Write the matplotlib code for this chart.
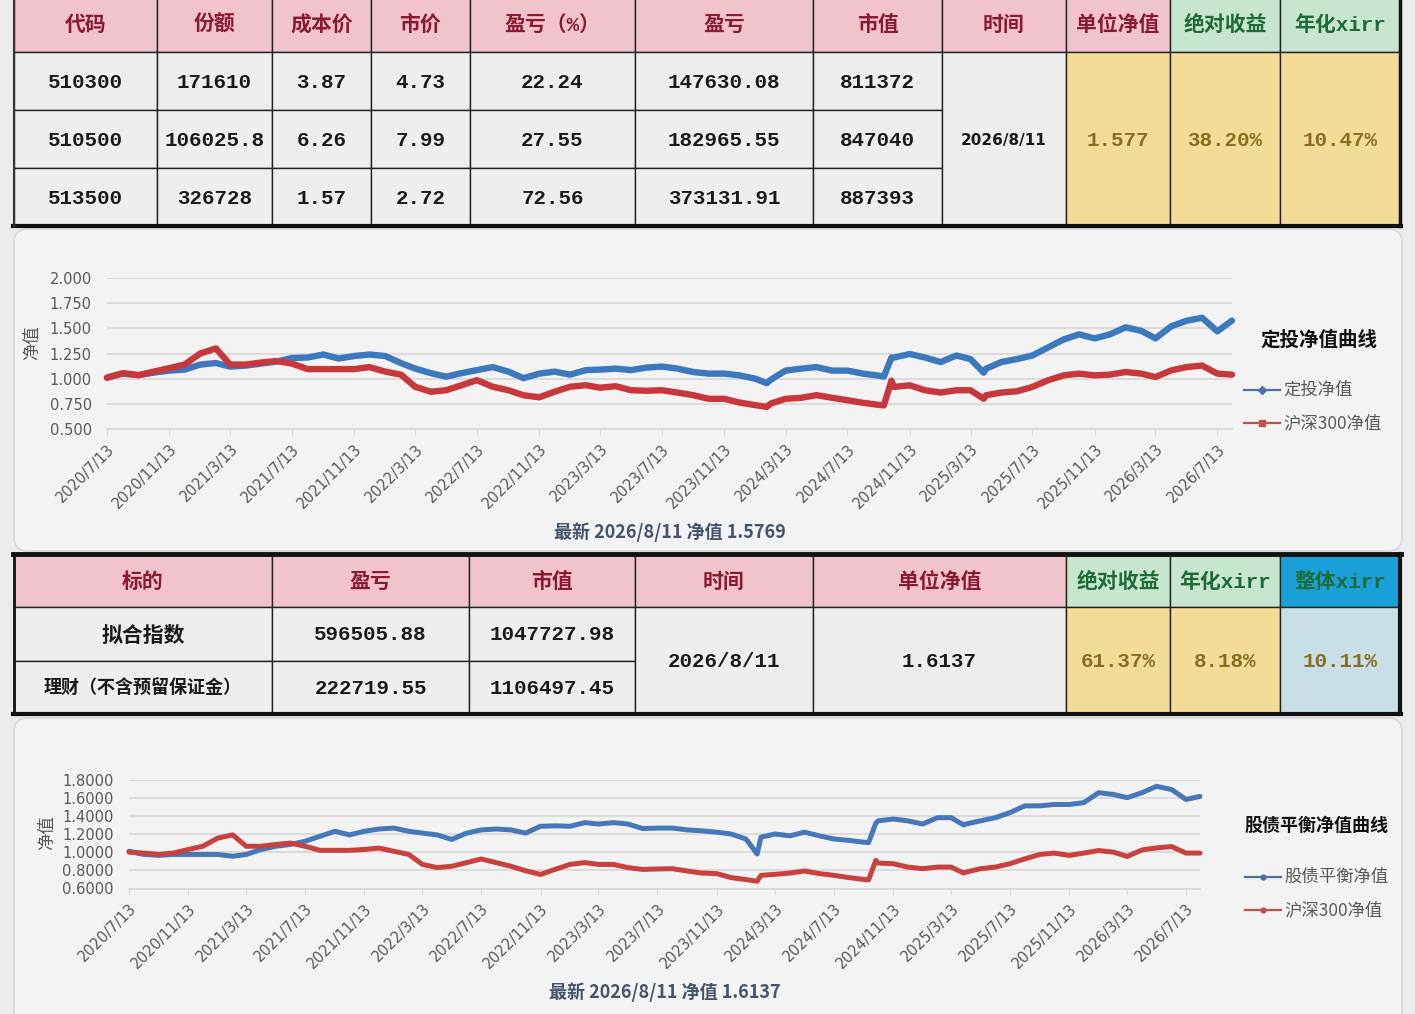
import numpy as np
import pandas as pd
import matplotlib
matplotlib.use("Agg")
import matplotlib.pyplot as plt
from matplotlib.patches import Rectangle, FancyBboxPatch
from matplotlib.ticker import FormatStrFormatter

plt.rcParams['font.family'] = ['Noto Sans CJK SC', 'DejaVu Sans']

# ---------------- 表格数据 ----------------
hdr1 = ['代码', '份额', '成本价', '市价', '盈亏（%）', '盈亏', '市值', '时间', '单位净值', '绝对收益', '年化xirr']
codes = ['510300', '510500', '513500']
shares = ['171610', '106025.8', '326728']
cost = ['3.87', '6.26', '1.57']
price = ['4.73', '7.99', '2.72']
pnl_pct = ['22.24', '27.55', '72.56']
pnl = ['147630.08', '182965.55', '373131.91']
mkt = ['811372', '847040', '887393']
date1 = '2026/8/11'
nav1 = '1.577'
abs_ret1 = '38.20%'
xirr1 = '10.47%'

hdr2 = ['标的', '盈亏', '市值', '时间', '单位净值', '绝对收益', '年化xirr', '整体xirr']
names2 = ['拟合指数', '理财（不含预留保证金）']
pnl2 = ['596505.88', '222719.55']
mkt2 = ['1047727.98', '1106497.45']
date2 = '2026/8/11'
nav2 = '1.6137'
abs_ret2 = '61.37%'
xirr2 = '8.18%'
xirr2_all = '10.11%'

# ---------------- 曲线数据 (从图上读的, 月度采样) ----------------
dates = [
    '2020/7/13', '2020/8/13', '2020/9/13', '2020/10/13', '2020/11/13', '2020/12/13',
    '2021/1/13', '2021/2/13', '2021/3/13', '2021/4/13', '2021/5/13', '2021/6/13',
    '2021/7/13', '2021/8/13', '2021/9/13', '2021/10/13', '2021/11/13', '2021/12/13',
    '2022/1/13', '2022/2/13', '2022/3/13', '2022/4/13', '2022/5/13', '2022/6/13',
    '2022/7/13', '2022/8/13', '2022/9/13', '2022/10/13', '2022/11/13', '2022/12/13',
    '2023/1/13', '2023/2/13', '2023/3/13', '2023/4/13', '2023/5/13', '2023/6/13',
    '2023/7/13', '2023/8/13', '2023/9/13', '2023/10/13', '2023/11/13', '2023/12/13',
    '2024/1/13', '2024/2/5', '2024/2/13', '2024/3/13', '2024/4/13', '2024/5/13', '2024/6/13',
    '2024/7/13', '2024/8/13', '2024/9/13', '2024/9/23', '2024/10/8', '2024/10/13',
    '2024/11/13', '2024/12/13',
    '2025/1/13', '2025/2/13', '2025/3/13', '2025/4/8', '2025/4/13', '2025/5/13',
    '2025/6/13', '2025/7/13', '2025/8/13', '2025/9/13', '2025/10/13', '2025/11/13', '2025/12/13',
    '2026/1/13', '2026/2/13', '2026/3/13', '2026/4/13', '2026/5/13', '2026/6/13',
    '2026/7/13', '2026/8/11',
]

dingtou = [
    1.01, 1.05, 1.035, 1.06, 1.08, 1.09,
    1.14, 1.155, 1.12, 1.13, 1.15, 1.17, 1.205, 1.21, 1.24, 1.20, 1.225, 1.24,
    1.225, 1.155, 1.10, 1.055, 1.02, 1.055, 1.085, 1.115, 1.07, 1.005, 1.05, 1.07,
    1.04, 1.085, 1.09, 1.10, 1.085, 1.11, 1.12, 1.10, 1.066, 1.05, 1.05, 1.033,
    1.00, 0.955, 0.99, 1.08, 1.10, 1.115, 1.08, 1.08, 1.05, 1.03, 1.02, 1.21, 1.21, 1.245, 1.21,
    1.165, 1.23, 1.195, 1.06, 1.10, 1.165, 1.195, 1.23, 1.31, 1.39, 1.44, 1.40, 1.44,
    1.51, 1.475, 1.40, 1.52, 1.575, 1.605, 1.47, 1.577,
]
hs300_a = [
    1.01, 1.055, 1.035, 1.07, 1.105, 1.14,
    1.25, 1.30, 1.14, 1.14, 1.16, 1.175, 1.15, 1.095, 1.095, 1.095, 1.095, 1.115,
    1.07, 1.04, 0.92, 0.87, 0.885, 0.935, 0.985, 0.92, 0.885, 0.835, 0.815, 0.87,
    0.92, 0.935, 0.91, 0.925, 0.885, 0.88, 0.885, 0.862, 0.836, 0.80, 0.80, 0.763,
    0.737, 0.72, 0.753, 0.80, 0.81, 0.836, 0.81, 0.786, 0.76, 0.74, 0.735, 0.98, 0.918, 0.934, 0.885,
    0.862, 0.885, 0.885, 0.80, 0.836, 0.862, 0.875, 0.918, 0.984, 1.033, 1.05, 1.033, 1.04,
    1.066, 1.05, 1.016, 1.082, 1.115, 1.13, 1.05, 1.04,
]
guzhai = [
    1.01, 0.975, 0.965, 0.975, 0.975, 0.975,
    0.975, 0.955, 0.975, 1.03, 1.065, 1.085, 1.12, 1.175, 1.23, 1.19, 1.23, 1.255,
    1.265, 1.23, 1.21, 1.19, 1.14, 1.21, 1.245, 1.255, 1.245, 1.21, 1.285, 1.29,
    1.285, 1.325, 1.31, 1.325, 1.31, 1.26, 1.265, 1.265, 1.245, 1.235, 1.22, 1.20,
    1.145, 0.98, 1.165, 1.20, 1.18, 1.22, 1.18, 1.145, 1.13, 1.11, 1.105, 1.32, 1.345, 1.365, 1.345,
    1.31, 1.38, 1.38, 1.30, 1.31, 1.345, 1.38, 1.435, 1.51, 1.51, 1.525, 1.525, 1.545,
    1.655, 1.635, 1.60, 1.655, 1.725, 1.69, 1.58, 1.614,
]
hs300_b = [
    1.00, 0.99, 0.975, 0.99, 1.03, 1.065,
    1.155, 1.19, 1.065, 1.065, 1.085, 1.10, 1.065, 1.02, 1.02, 1.02, 1.03, 1.045,
    1.01, 0.975, 0.865, 0.83, 0.845, 0.885, 0.925, 0.885, 0.845, 0.795, 0.755, 0.81,
    0.865, 0.885, 0.865, 0.865, 0.83, 0.81, 0.815, 0.818, 0.793, 0.77, 0.764, 0.72,
    0.698, 0.68, 0.745, 0.756, 0.77, 0.793, 0.764, 0.745, 0.72, 0.70, 0.695, 0.91, 0.88, 0.873, 0.836,
    0.818, 0.836, 0.836, 0.77, 0.78, 0.818, 0.836, 0.873, 0.927, 0.975, 0.99, 0.964, 0.99,
    1.018, 1.0, 0.953, 1.025, 1.047, 1.062, 0.99, 0.99,
]

xlabels = ['2020/7/13', '2020/11/13', '2021/3/13', '2021/7/13', '2021/11/13', '2022/3/13',
           '2022/7/13', '2022/11/13', '2023/3/13', '2023/7/13', '2023/11/13', '2024/3/13',
           '2024/7/13', '2024/11/13', '2025/3/13', '2025/7/13', '2025/11/13', '2026/3/13',
           '2026/7/13']

W, H = 1415, 1014
fig = plt.figure(figsize=(W / 100, H / 100), dpi=100, facecolor='#ebebeb')
bg = fig.add_axes([0, 0, 1, 1])
bg.set_xlim(0, W)
bg.set_ylim(H, 0)
bg.axis('off')

MONO = ['Liberation Mono', 'Noto Sans CJK SC']
PINK, GREEN, GRAY = '#f1c3cd', '#c6e6cf', '#eeeeee'
YELLOW, CYAN, LBLUE = '#f2dc97', '#19a0d8', '#c8dfe8'
RED_T, GREEN_T, OLIVE = '#8b1a2e', '#1f6b36', '#8a6d1e'


def cell(x0, x1, y0, y1, fc, txt='', color='#1a1a1a', size=15, family=MONO, weight='bold'):
    bg.add_patch(Rectangle((x0, y0), x1 - x0, y1 - y0, facecolor=fc,
                           edgecolor='#222222', lw=1.0, zorder=1))
    if txt:
        bg.text((x0 + x1) / 2, (y0 + y1) / 2 + 1, txt, ha='center', va='center',
                color=color, fontsize=size, family=family, fontweight=weight, zorder=3)


# ---------------- 表 1 ----------------
cols1 = [14, 157, 272, 371, 470, 635, 813, 942, 1066, 1170, 1280, 1400]
rows1 = [-4, 52, 110, 168, 226]
for i, h in enumerate(hdr1):
    green = i >= 9
    cell(cols1[i], cols1[i + 1], rows1[0], rows1[1], GREEN if green else PINK, h,
         GREEN_T if green else RED_T, 15, MONO, 'bold')
body1 = [codes, shares, cost, price, pnl_pct, pnl, mkt]
for r in range(3):
    for c in range(7):
        cell(cols1[c], cols1[c + 1], rows1[r + 1], rows1[r + 2], GRAY, body1[c][r])
cell(cols1[7], cols1[8], rows1[1], rows1[4], GRAY, date1, size=11, family='DejaVu Sans', weight='bold')
cell(cols1[8], cols1[9], rows1[1], rows1[4], YELLOW, nav1, OLIVE)
cell(cols1[9], cols1[10], rows1[1], rows1[4], YELLOW, abs_ret1, OLIVE)
cell(cols1[10], cols1[11], rows1[1], rows1[4], YELLOW, xirr1, OLIVE)
bg.plot([13, 1401], [226, 226], color='#111111', lw=3, zorder=4)
bg.plot([1400, 1400], [0, 226], color='#111111', lw=2.5, zorder=4)
bg.plot([14, 14], [0, 226], color='#333333', lw=1.5, zorder=4)

# ---------------- 表 2 ----------------
cols2 = [14, 272, 469, 635, 813, 1066, 1170, 1280, 1400]
rows2 = [555, 607, 661, 714]
for i, h in enumerate(hdr2):
    fc = PINK if i < 5 else (GREEN if i < 7 else CYAN)
    cell(cols2[i], cols2[i + 1], rows2[0], rows2[1], fc, h,
         RED_T if i < 5 else GREEN_T, 15, MONO, 'bold')
for r in range(2):
    cell(cols2[0], cols2[1], rows2[r + 1], rows2[r + 2], GRAY, names2[r],
         size=15 if r == 0 else 13, family='Noto Sans CJK SC', weight='bold')
    cell(cols2[1], cols2[2], rows2[r + 1], rows2[r + 2], GRAY, pnl2[r])
    cell(cols2[2], cols2[3], rows2[r + 1], rows2[r + 2], GRAY, mkt2[r])
cell(cols2[3], cols2[4], rows2[1], rows2[3], GRAY, date2)
cell(cols2[4], cols2[5], rows2[1], rows2[3], GRAY, nav2)
cell(cols2[5], cols2[6], rows2[1], rows2[3], YELLOW, abs_ret2, OLIVE)
cell(cols2[6], cols2[7], rows2[1], rows2[3], YELLOW, xirr2, OLIVE)
cell(cols2[7], cols2[8], rows2[1], rows2[3], LBLUE, xirr2_all, OLIVE)
bg.plot([13, 1401], [554, 554], color='#111111', lw=3.5, zorder=4)
bg.plot([13, 1401], [714, 714], color='#111111', lw=3, zorder=4)
bg.plot([1400, 1400], [554, 714], color='#111111', lw=3, zorder=4)
bg.plot([14, 14], [554, 714], color='#111111', lw=2, zorder=4)

# ---------------- 图表底板 ----------------
for y0, y1 in [(229, 551), (718, 1030)]:
    bg.add_patch(FancyBboxPatch((14, y0), 1388, y1 - y0,
                                boxstyle='round,pad=0,rounding_size=14',
                                facecolor='#f3f3f3', edgecolor='#d4d4d4', lw=1, zorder=0.5))

d = pd.to_datetime(dates, format='%Y/%m/%d')
tick_d = pd.to_datetime(xlabels, format='%Y/%m/%d')


def draw_chart(x0, x1, ytop, ybot, s_blue, s_red, ylim, yticks, yfmt, lw, c_blue, c_red):
    ax = fig.add_axes([x0 / W, 1 - ybot / H, (x1 - x0) / W, (ybot - ytop) / H])
    ax.set_facecolor('none')
    ax.plot(d, s_blue, color=c_blue, lw=lw, solid_joinstyle='round',
            solid_capstyle='round', clip_on=False, zorder=3)
    ax.plot(d, s_red, color=c_red, lw=lw, solid_joinstyle='round',
            solid_capstyle='round', clip_on=False, zorder=4)
    ax.set_xlim(d[0], d[-1])
    ax.set_ylim(*ylim)
    ax.set_yticks(yticks)
    ax.yaxis.set_major_formatter(FormatStrFormatter(yfmt))
    ax.set_xticks(tick_d)
    ax.set_xticklabels(xlabels, rotation=45, ha='right', va='top', rotation_mode='anchor')
    ax.grid(axis='y', color='#d9d9d9', lw=1.3)
    ax.set_axisbelow(True)
    for s in ['top', 'right', 'left']:
        ax.spines[s].set_visible(False)
    ax.spines['bottom'].set_color('#d9d9d9')
    ax.spines['bottom'].set_linewidth(1.3)
    ax.tick_params(axis='y', length=0, pad=11, labelsize=10.5, labelcolor='#595959')
    ax.tick_params(axis='x', length=4, color='#d9d9d9', pad=5, labelsize=10.5, labelcolor='#595959')
    for lb in ax.get_xticklabels() + ax.get_yticklabels():
        lb.set_family('DejaVu Sans')
    return ax


draw_chart(107, 1232, 278, 429, dingtou, hs300_a, (0.5, 2.0),
           [0.5, 0.75, 1.0, 1.25, 1.5, 1.75, 2.0], '%.3f', 4.6, '#3c78be', '#c8373c')
draw_chart(129, 1200, 779.5, 888.5, guzhai, hs300_b, (0.6, 1.8),
           [0.6, 0.8, 1.0, 1.2, 1.4, 1.6, 1.8], '%.4f', 3.6, '#4677b8', '#c8413f')

# 坐标轴标题 / 副标题
bg.text(32, 343, '净值', rotation=90, ha='center', va='center', fontsize=12.5, color='#595959')
bg.text(47, 833, '净值', rotation=90, ha='center', va='center', fontsize=12.5, color='#595959')
bg.text(670, 532, '最新 2026/8/11 净值 1.5769', ha='center', va='center',
        fontsize=13, fontweight='bold', color='#44546a')
bg.text(665, 992, '最新 2026/8/11 净值 1.6137', ha='center', va='center',
        fontsize=13, fontweight='bold', color='#44546a')

# 图例
bg.text(1319, 340, '定投净值曲线', ha='center', va='center', fontsize=14, fontweight='bold', color='#111111')
bg.plot([1244, 1280], [390, 390], color='#4a72b0', lw=1.6)
bg.plot([1262], [390], marker='D', ms=4, color='#4a72b0')
bg.text(1283, 390, '定投净值', ha='left', va='center', fontsize=12.5, color='#595959')
bg.plot([1244, 1280], [423, 423], color='#c0504d', lw=1.6)
bg.plot([1262], [423], marker='s', ms=4.5, color='#c0504d')
bg.text(1283, 423, '沪深300净值', ha='left', va='center', fontsize=12.5, color='#595959')

bg.text(1316, 825, '股债平衡净值曲线', ha='center', va='center', fontsize=13, fontweight='bold', color='#111111')
bg.plot([1245, 1281], [877, 877], color='#4d6e9e', lw=1.6)
bg.plot([1263], [877], marker='o', ms=3.5, color='#4d6e9e')
bg.text(1284, 877, '股债平衡净值', ha='left', va='center', fontsize=12.5, color='#595959')
bg.plot([1245, 1281], [910, 910], color='#c0504d', lw=1.6)
bg.plot([1263], [910], marker='o', ms=3.5, color='#c0504d')
bg.text(1284, 910, '沪深300净值', ha='left', va='center', fontsize=12.5, color='#595959')

fig.savefig('out.png', dpi=100, facecolor=fig.get_facecolor())
